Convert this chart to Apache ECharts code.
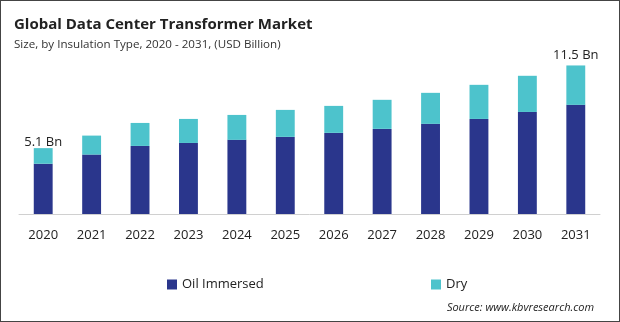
<!DOCTYPE html>
<html><head><meta charset="utf-8">
<script src="https://cdn.jsdelivr.net/npm/echarts@6/dist/echarts.min.js"></script>
<style>html,body{margin:0;padding:0;background:#fff}#c{width:618px;height:320px;border:1px solid #444;}</style>
</head><body><div id="c"></div>
<script>
const years = ['2020','2021','2022','2023','2024','2025','2026','2027','2028','2029','2030','2031'];
const oilImmersed = [3.89, 4.60, 5.27, 5.50, 5.74, 5.97, 6.28, 6.59, 6.98, 7.36, 7.90, 8.45];
const dry = [1.21, 1.47, 1.78, 1.86, 1.93, 2.09, 2.09, 2.25, 2.40, 2.64, 2.80, 3.05];
const totalLabels = {0: '5.1 Bn', 11: '11.5 Bn'};
const chart = echarts.init(document.getElementById('c'));
const F = 'Open Sans';
const dryData = dry.map((v, i) => i === 0 ? {value: v, label: {distance: -1}} : v);
chart.setOption({
  animation: false,
  title: [
    {text: 'Global Data Center Transformer Market', left: 8, top: 11, textStyle: {fontFamily: F, fontSize: 15, fontWeight: 'bold', color: '#222'}},
    {text: 'Size, by Insulation Type, 2020 - 2031, (USD Billion)', left: 8, top: 33, textStyle: {fontFamily: F, fontSize: 11.6, fontWeight: 'normal', color: '#333'}},
    {text: 'Source: www.kbvresearch.com', right: 20, top: 296, textStyle: {fontFamily: F, fontSize: 11, fontStyle: 'italic', fontWeight: 'normal', color: '#222'}}
  ],
  legend: [
    {data: ['Oil Immersed'], left: 161, top: 272, itemWidth: 10, itemHeight: 10, icon: 'rect', textStyle: {fontFamily: F, fontSize: 13, color: '#222'}},
    {data: ['Dry'], left: 425, top: 272, itemWidth: 10, itemHeight: 10, icon: 'rect', textStyle: {fontFamily: F, fontSize: 13, color: '#222'}}
  ],
  grid: {left: 18, right: 19, top: 58, bottom: 107, containLabel: false},
  xAxis: {type: 'category', data: years,
    axisLine: {lineStyle: {color: '#d0d0d0'}}, axisTick: {show: false},
    axisLabel: {fontFamily: F, fontSize: 13, color: '#222', margin: 15}},
  yAxis: {type: 'value', min: 0, max: 12, show: false, splitLine: {show: false}},
  series: [
    {name: 'Oil Immersed', type: 'bar', stack: 'a', data: oilImmersed, barWidth: '39%', itemStyle: {color: '#2a368c'}},
    {name: 'Dry', type: 'bar', stack: 'a', data: dryData, barWidth: '39%', itemStyle: {color: '#4dc3cc'},
      label: {show: true, position: 'top', distance: 4, fontFamily: F, fontSize: 13, color: '#222',
        formatter: p => totalLabels[p.dataIndex] || ''}}
  ]
});
</script></body></html>
